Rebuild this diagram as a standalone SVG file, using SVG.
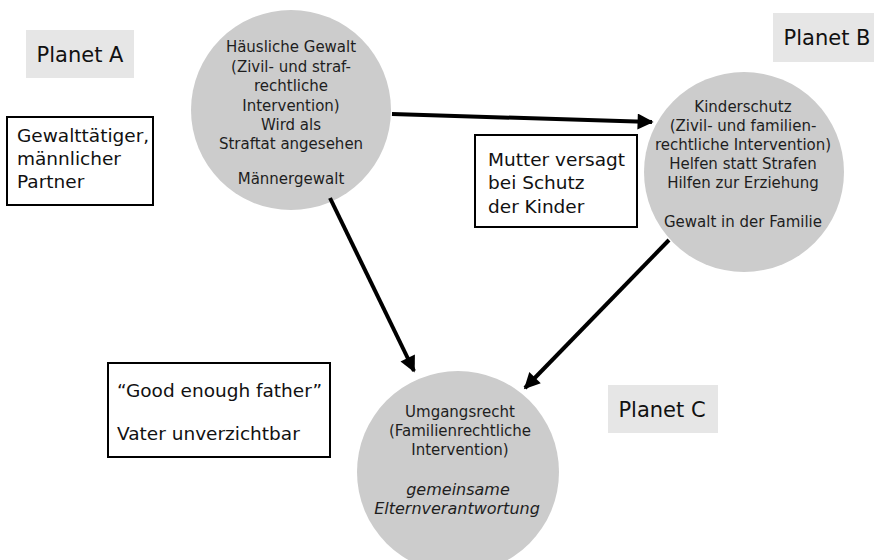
<svg xmlns="http://www.w3.org/2000/svg" width="874" height="560" viewBox="0 0 874 560">
<defs>
<style>
.n{fill:#cccccc}
.t{font-family:"DejaVu Sans",Verdana,sans-serif;font-size:15px;fill:#1e1e1e;text-anchor:middle}
.i{font-style:italic;font-size:16px}
.bx{fill:#fff;stroke:#000;stroke-width:2}
.bt{font-family:"DejaVu Sans",Verdana,sans-serif;font-size:18.5px;fill:#111}
.pl{fill:#e6e6e6}
.pt{font-family:"DejaVu Sans",Verdana,sans-serif;font-size:21px;fill:#111;text-anchor:middle}
.c{stroke:#000;stroke-width:4;fill:none;marker-end:url(#ah)}
</style>
<marker id="ah" viewBox="0 0 10 10" refX="9" refY="5" markerWidth="5.5" markerHeight="4" markerUnits="strokeWidth" orient="auto">
<path d="M0,0 L10,5 L0,10 z" fill="#000"/>
</marker>
</defs>
<rect width="874" height="560" fill="#fff"/>
<g id="planetA"><rect class="pl" x="26" y="30" width="108" height="48"/><text class="pt" x="80" y="62">Planet A</text></g>
<g id="planetB"><rect class="pl" x="773" y="13" width="101" height="49"/><text class="pt" x="827" y="45">Planet B</text></g>
<g id="planetC"><rect class="pl" x="608" y="385" width="110" height="48"/><text class="pt" x="662" y="417">Planet C</text></g>
<g id="nodeA"><circle class="n" cx="291" cy="110" r="100"/>
<text class="t"><tspan x="291" y="52">Häusliche Gewalt</tspan><tspan x="291" y="72">(Zivil- und straf-</tspan><tspan x="291" y="91">rechtliche</tspan><tspan x="291" y="111">Intervention)</tspan><tspan x="291" y="130">Wird als</tspan><tspan x="291" y="149">Straftat angesehen</tspan><tspan x="291" y="184">Männergewalt</tspan></text></g>
<g id="nodeB"><circle class="n" cx="744" cy="172" r="100"/>
<text class="t"><tspan x="743" y="112">Kinderschutz</tspan><tspan x="743" y="131">(Zivil- und familien-</tspan><tspan x="743" y="150">rechtliche Intervention)</tspan><tspan x="743" y="169">Helfen statt Strafen</tspan><tspan x="743" y="188">Hilfen zur Erziehung</tspan><tspan x="743" y="227">Gewalt in der Familie</tspan></text></g>
<g id="nodeC"><circle class="n" cx="458" cy="472" r="101"/>
<text class="t"><tspan x="460" y="417">Umgangsrecht</tspan><tspan x="460" y="436">(Familienrechtliche</tspan><tspan x="460" y="455">Intervention)</tspan><tspan class="i" x="458" y="495">gemeinsame</tspan><tspan class="i" x="457" y="514">Elternverantwortung</tspan></text></g>
<g id="boxA"><rect class="bx" x="7" y="117" width="146" height="88"/>
<text class="bt"><tspan x="17" y="142">Gewalttätiger,</tspan><tspan x="17" y="165">männlicher</tspan><tspan x="17" y="188">Partner</tspan></text></g>
<g id="boxB"><rect class="bx" x="475" y="135" width="162" height="92"/>
<text class="bt"><tspan x="488" y="166">Mutter versagt</tspan><tspan x="488" y="189">bei Schutz</tspan><tspan x="488" y="213">der Kinder</tspan></text></g>
<g id="boxC"><rect class="bx" x="108" y="363" width="222" height="94"/>
<text class="bt"><tspan x="117" y="397">“Good enough father”</tspan><tspan x="117" y="440">Vater unverzichtbar</tspan></text></g>
<g id="connectors">
<line class="c" x1="392" y1="114" x2="652" y2="122"/>
<line class="c" x1="330" y1="198" x2="414" y2="371"/>
<line class="c" x1="669" y1="240" x2="525" y2="388"/>
</g>
</svg>
